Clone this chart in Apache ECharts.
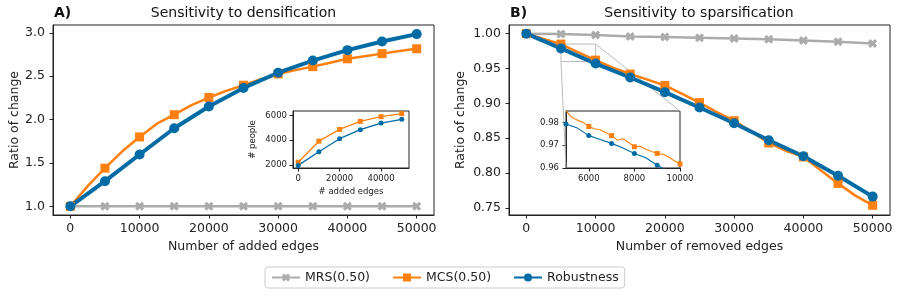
<!DOCTYPE html>
<html>
<head>
<meta charset="utf-8">
<script src="https://cdn.jsdelivr.net/npm/echarts@6/dist/echarts.min.js"></script>
<style>
  html, body { margin: 0; padding: 0; background: #fff; }
  #box { width: 897px; height: 296px; }
</style>
</head>
<body>
<div id="box"></div>
<script>
var mychart = echarts.init(document.getElementById("box"));
var FONT = 'DejaVu Sans';
var BLUE = '#006BA4', ORANGE = '#FF800E', GRAY = '#ABABAB';
var names = ['MRS(0.50)', 'MCS(0.50)', 'Robustness'];

// A) densification
var denseX = [0, 5000, 10000, 15000, 20000, 25000, 30000, 35000, 40000, 45000, 50000];
var denseMRS = [1.0, 1.0, 1.0, 1.0, 1.0, 1.0, 1.0, 1.0, 1.0, 1.0, 1.0];
var denseRob = [1.0, 1.29, 1.597, 1.90, 2.15, 2.365, 2.54, 2.68, 2.80, 2.90, 2.985];
var denseMcsX = [0, 2500, 5000, 7500, 10000, 12500, 15000, 17500, 20000, 22500, 25000,
    27500, 30000, 32500, 35000, 37500, 40000, 42500, 45000, 47500, 50000];
var denseMCS = [1.0, 1.233, 1.44, 1.634, 1.80, 1.952, 2.056, 2.167, 2.254, 2.33, 2.396,
    2.465, 2.526, 2.57, 2.61, 2.655, 2.70, 2.73, 2.76, 2.79, 2.816];
var denseYTicks = [1.0, 1.5, 2.0, 2.5, 3.0];

// B) sparsification
var sparseX = denseX;
var sparseMRS = [1.0, 0.9995, 0.998, 0.996, 0.9952, 0.994, 0.993, 0.992, 0.990, 0.9884, 0.986];
var sparseRob = [1.0, 0.9788, 0.957, 0.937, 0.916, 0.894, 0.8714, 0.847, 0.824, 0.796, 0.766];
var sparseMcsX = denseMcsX;
var sparseMCS = [1.0, 0.9925, 0.985, 0.973, 0.962, 0.951, 0.942, 0.934, 0.9256, 0.9135, 0.901,
    0.8874, 0.875, 0.8593, 0.843, 0.8317, 0.823, 0.8037, 0.785, 0.7674, 0.7535];
var sparseYTicks = [0.75, 0.80, 0.85, 0.90, 0.95, 1.00];
var mainXTicks = [0, 10000, 20000, 30000, 40000, 50000];

// inset A: # people
var insetAX = [0, 10000, 20000, 30000, 40000, 50000];
var insetAMCS = [2210, 3910, 4860, 5510, 5890, 6140];
var insetARob = [1950, 3050, 4110, 4840, 5375, 5675];
var insetAXTicks = [0, 20000, 40000];
var insetAYTicks = [2000, 4000, 6000];

// inset B: zoom of the sparsification curve
var insetBMcsX = [5000, 5250, 5500, 5750, 6000, 6250, 6500, 6750, 7000, 7250, 7500,
    7750, 8000, 8250, 8500, 8750, 9000, 9250, 9500, 9750, 10000];
var insetBMCS = [0.9852, 0.9822, 0.9810, 0.9800, 0.9782, 0.9772, 0.9768, 0.9755, 0.9742, 0.9722, 0.9728,
    0.9712, 0.9693, 0.9695, 0.9682, 0.9672, 0.9664, 0.9660, 0.9648, 0.9632, 0.9618];
var insetBRobX = [5000, 5500, 6000, 6500, 7000, 7500, 8000, 8500, 9000, 9500, 10000];
var insetBRob = [0.9793, 0.9775, 0.9742, 0.9725, 0.9708, 0.9688, 0.9664, 0.9645, 0.9612, 0.9585, 0.957];
var insetBXTicks = [6000, 8000, 10000];
var insetBYTicks = [0.96, 0.97, 0.98];
var zoomBox = {x: [5000, 10000], y: [0.96, 0.985]};

// filled "X" marker
var xShape = 'path://M0,2.5 L2.5,0 L5,2.5 L7.5,0 L10,2.5 L7.5,5 L10,7.5 L7.5,10 L5,7.5 L2.5,10 L0,7.5 L2.5,5 Z';

function pts(xs, ys, every) {
    return xs.map(function (x, i) {
        var d = {value: [x, ys[i]]};
        if (x % every !== 0) d.symbol = 'none';
        return d;
    });
}

function axis(grid, min, max, ticks, fs, fmt, name, nameGap, margin) {
    return {
        type: 'value', gridIndex: grid, min: min, max: max,
        name: name, nameLocation: 'middle', nameGap: nameGap,
        nameTextStyle: {fontFamily: FONT, fontSize: fs, color: '#222'},
        axisLine: {show: true, onZero: false, lineStyle: {color: '#222', width: 1}},
        axisTick: {show: true, inside: false, length: 3.5, customValues: ticks, lineStyle: {color: '#222'}},
        axisLabel: {customValues: ticks, fontFamily: FONT, fontSize: fs, color: '#222', margin: margin, formatter: fmt},
        splitLine: {show: false}
    };
}
var f0 = function (v) { return String(Math.round(v)); };
var f1 = function (v) { return v.toFixed(1); };
var f2 = function (v) { return v.toFixed(2); };

function line(name, color, width, symbol, size, x, y, xi, every) {
    return {
        name: name, type: 'line', xAxisIndex: xi, yAxisIndex: xi,
        data: pts(x, y, every), symbol: symbol, symbolSize: size, showSymbol: true,
        lineStyle: {color: color, width: width}, itemStyle: {color: color},
        emphasis: {disabled: true}, animation: false, clip: true
    };
}

var gridBase = {show: true, borderColor: '#222', borderWidth: 1};
var option = {
    animation: false,
    grid: [
        Object.assign({left: 53, top: 25, width: 381, height: 190}, gridBase),
        Object.assign({left: 509, top: 25, width: 381, height: 190}, gridBase),
        Object.assign({left: 293, top: 111, width: 116, height: 57, backgroundColor: '#fff'}, gridBase),
        Object.assign({left: 566, top: 111, width: 114, height: 57, backgroundColor: '#fff'}, gridBase)
    ],
    xAxis: [
        axis(0, -2500, 52500, mainXTicks, 12.5, f0, 'Number of added edges', 24, 7),
        axis(1, -2500, 52500, mainXTicks, 12.5, f0, 'Number of removed edges', 24, 7),
        axis(2, -2500, 53500, insetAXTicks, 8.5, f0, '# added edges', 19, 6),
        axis(3, zoomBox.x[0], zoomBox.x[1], insetBXTicks, 8.5, f0, '', 0, 6)
    ],
    yAxis: [
        axis(0, 0.9, 3.09, denseYTicks, 12.5, f1, 'Ratio of change', 32, 8),
        axis(1, 0.7396, 1.0124, sparseYTicks, 12.5, f2, 'Ratio of change', 42, 8),
        axis(2, 1740, 6350, insetAYTicks, 8.5, f0, '# people', 36, 6),
        axis(3, zoomBox.y[0], zoomBox.y[1], insetBYTicks, 8.5, f2, '', 0, 7)
    ],
    legend: {
        data: names, left: 265, top: 267, itemWidth: 28, itemHeight: 10, itemGap: 22,
        padding: [4, 6], borderColor: '#cccccc', borderWidth: 1, borderRadius: 3,
        textStyle: {fontFamily: FONT, fontSize: 12.5, color: '#222'}
    },
    series: [
        line(names[0], GRAY, 2.5, xShape, 9, denseX, denseMRS, 0, 5000),
        line(names[1], ORANGE, 2.5, 'rect', 9, denseMcsX, denseMCS, 0, 5000),
        line(names[2], BLUE, 4, 'circle', 10, denseX, denseRob, 0, 5000),
        Object.assign(line(names[0], GRAY, 2.5, xShape, 9, sparseX, sparseMRS, 1, 5000), {
            markArea: {
                silent: true,
                itemStyle: {color: 'rgba(0,0,0,0)', borderColor: '#bbbbbb', borderWidth: 1},
                data: [[{coord: [zoomBox.x[0], zoomBox.y[0]]}, {coord: [zoomBox.x[1], zoomBox.y[1]]}]]
            }
        }),
        line(names[1], ORANGE, 2.5, 'rect', 9, sparseMcsX, sparseMCS, 1, 5000),
        line(names[2], BLUE, 4, 'circle', 10, sparseX, sparseRob, 1, 5000),
        line('inset A MCS', ORANGE, 1.3, 'rect', 5, insetAX, insetAMCS, 2, 10000),
        line('inset A Rob', BLUE, 1.3, 'circle', 5, insetAX, insetARob, 2, 10000),
        line('inset B MCS', ORANGE, 1.1, 'rect', 5, insetBMcsX, insetBMCS, 3, 1000),
        line('inset B Rob', BLUE, 1.1, 'circle', 5, insetBRobX, insetBRob, 3, 1000)
    ]
};
mychart.setOption(option);

// titles and the lines joining the zoom box to inset B
var p = function (g, v) { return mychart.convertToPixel({gridIndex: g}, v); };
var a1 = p(1, [zoomBox.x[0], zoomBox.y[0]]), b1 = p(3, [zoomBox.x[0], zoomBox.y[0]]);
var a2 = p(1, [zoomBox.x[1], zoomBox.y[1]]), b2 = p(3, [zoomBox.x[1], zoomBox.y[1]]);
function txt(x, y, s, align, bold) {
    return {type: 'text', x: x, y: y, silent: true,
        style: {text: s, fontFamily: FONT, fontSize: 14, fontWeight: bold ? 'bold' : 'normal',
            fill: '#111', textAlign: align, textVerticalAlign: 'middle'}};
}
function seg(a, b) {
    return {type: 'line', z: 1, silent: true, shape: {x1: a[0], y1: a[1], x2: b[0], y2: b[1]},
        style: {stroke: '#bbbbbb', lineWidth: 1}};
}
mychart.setOption({
    graphic: [
        txt(243.5, 13, 'Sensitivity to densification', 'center', false),
        txt(699, 13, 'Sensitivity to sparsification', 'center', false),
        txt(54, 13, 'A)', 'left', true),
        txt(510, 13, 'B)', 'left', true),
        seg(a1, b1),
        seg(a2, b2)
    ]
});
</script>
</body>
</html>
